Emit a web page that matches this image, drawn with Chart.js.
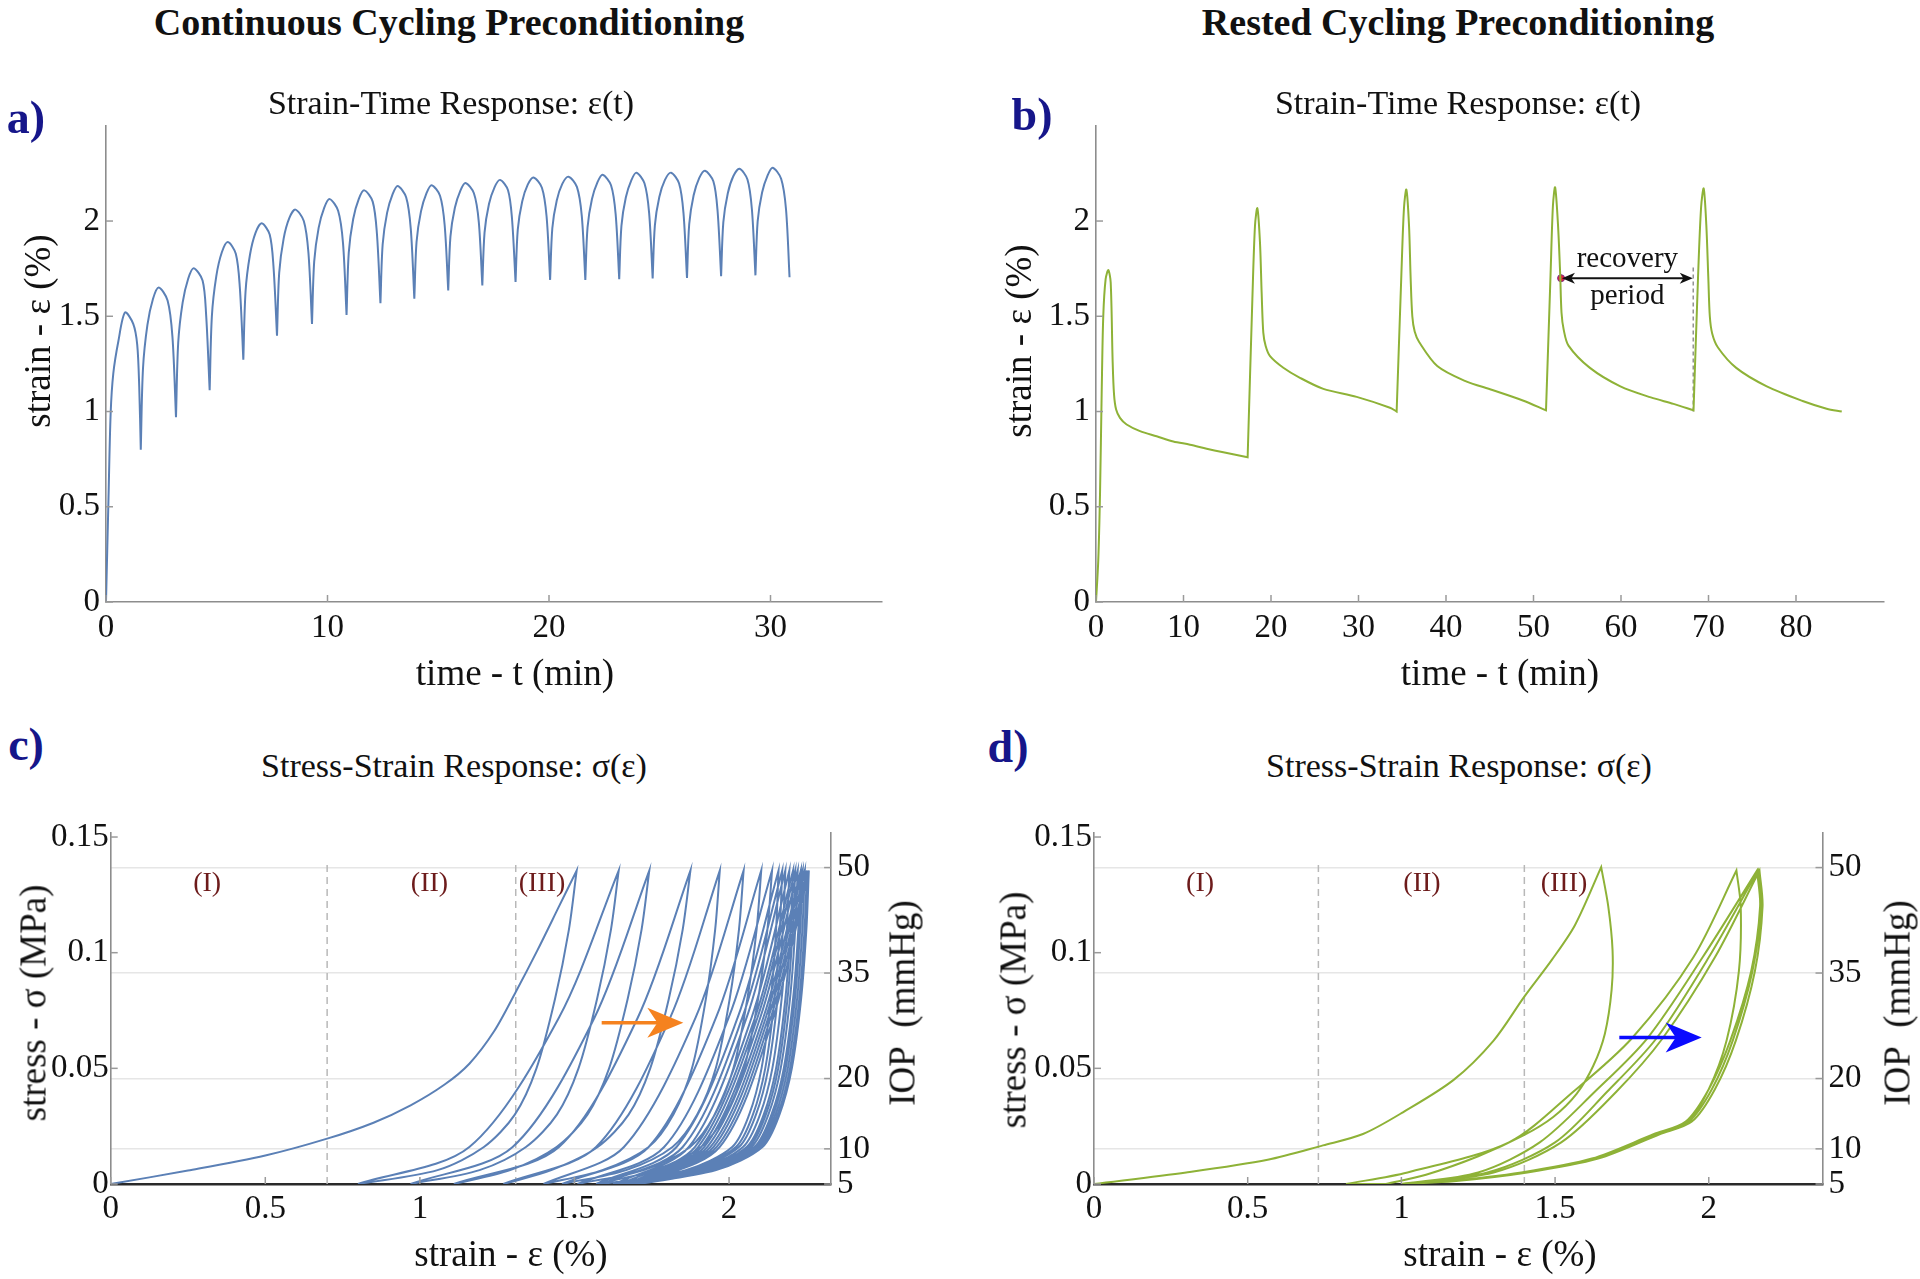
<!DOCTYPE html>
<html>
<head>
<meta charset="utf-8">
<script src="https://cdn.jsdelivr.net/npm/chart.js@4.4.1/dist/chart.umd.min.js"></script>
<style>
  body { margin: 0; background: #fff; }
  #page { position: relative; width: 1920px; height: 1279px; overflow: hidden;
          font-family: 'Liberation Serif', 'Times New Roman', serif; color: #111; }
  canvas { position: absolute; }
  .t { position: absolute; white-space: nowrap; line-height: 1; transform: translate(-50%, -50%); }
  .rot { transform: translate(-50%, -50%) rotate(-90deg); }
  .head { font-weight: bold; font-size: 38px; }
  .ptitle { font-size: 34px; }
  .axt { font-size: 37px; }
  .lab { font-weight: bold; font-size: 46px; color: #16168a; }
</style>
</head>
<body>
<div id="page">
  <canvas id="ca" width="910" height="600" style="left:0px;top:100px"></canvas>
  <canvas id="cb" width="960" height="600" style="left:960px;top:100px"></canvas>
  <canvas id="cc" width="960" height="479" style="left:0px;top:800px"></canvas>
  <canvas id="cd" width="960" height="479" style="left:960px;top:800px"></canvas>

  <div class="t head" style="left:449px;top:22px">Continuous Cycling Preconditioning</div>
  <div class="t head" style="left:1458px;top:22px">Rested Cycling Preconditioning</div>

  <div class="t lab" style="left:26px;top:118px">a)</div>
  <div class="t lab" style="left:1032px;top:115px">b)</div>
  <div class="t lab" style="left:26px;top:745px">c)</div>
  <div class="t lab" style="left:1008px;top:747px">d)</div>

  <div class="t ptitle" style="left:451px;top:103px">Strain-Time Response: ε(t)</div>
  <div class="t ptitle" style="left:1458px;top:103px">Strain-Time Response: ε(t)</div>
  <div class="t ptitle" style="left:454px;top:766px">Stress-Strain Response: σ(ε)</div>
  <div class="t ptitle" style="left:1459px;top:766px">Stress-Strain Response: σ(ε)</div>

  <div class="t axt" style="left:515px;top:672px">time - t (min)</div>
  <div class="t axt" style="left:1500px;top:672px">time - t (min)</div>
  <div class="t axt rot" style="left:37px;top:331px">strain - ε (%)</div>
  <div class="t axt rot" style="left:1018px;top:341px">strain - ε (%)</div>

  <div class="t axt" style="left:511px;top:1253px">strain - ε (%)</div>
  <div class="t axt" style="left:1500px;top:1253px">strain - ε (%)</div>
  <div class="t axt rot" style="left:33px;top:1003px">stress - σ (MPa)</div>
  <div class="t axt rot" style="left:1013px;top:1010px">stress - σ (MPa)</div>
  <div class="t axt rot" style="left:902px;top:1003px">IOP&nbsp; (mmHg)</div>
  <div class="t axt rot" style="left:1897px;top:1003px">IOP&nbsp; (mmHg)</div>
</div>

<script>
// ---------- data ----------

// a) continuous cycling, [time (min), strain (%)]
const contStrainTime = [
  [0, 0], [0.11, 0.53], [0.21, 0.99], [0.33, 1.2], [0.56, 1.37], [0.86, 1.52], [1.23, 1.46], [1.41, 1.35], [1.5, 1.13], [1.57, 0.8],
  [1.67, 1.226], [1.87, 1.455], [2.12, 1.591], [2.38, 1.651], [2.78, 1.583], [3.0, 1.392], [3.16, 0.97],
  [3.26, 1.361], [3.46, 1.572], [3.71, 1.697], [3.96, 1.752], [4.36, 1.688], [4.52, 1.509], [4.68, 1.112],
  [4.78, 1.501], [4.98, 1.711], [5.23, 1.836], [5.5, 1.89], [5.86, 1.828], [6.04, 1.655], [6.2, 1.272],
  [6.3, 1.63], [6.5, 1.823], [6.75, 1.938], [7.03, 1.988], [7.39, 1.929], [7.56, 1.764], [7.72, 1.398],
  [7.82, 1.729], [8.02, 1.908], [8.27, 2.014], [8.55, 2.06], [8.93, 2.0], [9.14, 1.832], [9.3, 1.46],
  [9.4, 1.788], [9.6, 1.964], [9.85, 2.069], [10.1, 2.115], [10.48, 2.054], [10.7, 1.884], [10.86, 1.507],
  [10.96, 1.834], [11.16, 2.011], [11.41, 2.115], [11.66, 2.161], [12.04, 2.102], [12.23, 1.936], [12.39, 1.569],
  [12.49, 1.877], [12.69, 2.043], [12.94, 2.141], [13.17, 2.184], [13.55, 2.125], [13.76, 1.959], [13.92, 1.592],
  [14.02, 1.89], [14.22, 2.051], [14.47, 2.146], [14.7, 2.188], [15.08, 2.133], [15.29, 1.978], [15.45, 1.635],
  [15.55, 1.918], [15.75, 2.07], [16.0, 2.16], [16.23, 2.2], [16.61, 2.146], [16.83, 1.996], [16.99, 1.662],
  [17.09, 1.939], [17.29, 2.089], [17.54, 2.177], [17.79, 2.216], [18.15, 2.162], [18.33, 2.012], [18.49, 1.68],
  [18.59, 1.955], [18.79, 2.103], [19.04, 2.191], [19.3, 2.229], [19.68, 2.175], [19.89, 2.025], [20.05, 1.691],
  [20.15, 1.962], [20.35, 2.108], [20.6, 2.195], [20.88, 2.233], [21.26, 2.179], [21.48, 2.027], [21.64, 1.691],
  [21.74, 1.967], [21.94, 2.116], [22.19, 2.204], [22.42, 2.243], [22.8, 2.188], [23.01, 2.035], [23.17, 1.695],
  [23.27, 1.975], [23.47, 2.125], [23.72, 2.215], [23.95, 2.254], [24.31, 2.198], [24.52, 2.043], [24.68, 1.699],
  [24.78, 1.977], [24.98, 2.126], [25.23, 2.215], [25.51, 2.254], [25.87, 2.198], [26.07, 2.044], [26.23, 1.701],
  [26.33, 1.983], [26.53, 2.135], [26.78, 2.225], [27.04, 2.264], [27.42, 2.209], [27.61, 2.054], [27.77, 1.711],
  [27.87, 1.993], [28.07, 2.145], [28.32, 2.235], [28.6, 2.274], [28.96, 2.218], [29.16, 2.062], [29.32, 1.715],
  [29.42, 1.998], [29.62, 2.15], [29.87, 2.24], [30.1, 2.28], [30.48, 2.222], [30.7, 2.062], [30.86, 1.705]
];

// b) rested cycling, [time (min), strain (%)]
const restStrainTime = [
  [0, 0], [0.26, 0.22], [0.46, 0.57], [0.65, 1.1], [0.83, 1.5], [1.1, 1.695], [1.41, 1.742], [1.68, 1.677],
  [1.9, 1.267], [2.06, 1.09], [2.3, 1.01], [2.74, 0.967], [3.5, 0.932], [5.03, 0.897], [6.93, 0.87],
  [8.83, 0.843], [10.74, 0.826], [12.65, 0.805], [14.55, 0.786], [17.33, 0.76],
  [17.87, 1.589], [18.17, 1.975], [18.44, 2.067], [18.74, 1.888], [18.93, 1.625], [19.12, 1.414], [19.39, 1.344],
  [19.89, 1.291], [21.41, 1.23], [23.31, 1.177], [25.98, 1.119], [29.79, 1.077], [33.6, 1.02], [34.36, 1.0],
  [34.9, 1.72], [35.2, 2.07], [35.47, 2.165], [35.77, 1.98], [35.96, 1.7], [36.15, 1.5], [36.42, 1.42],
  [36.93, 1.365], [39.0, 1.239], [42.16, 1.161], [45.3, 1.113], [48.78, 1.058], [51.43, 1.006],
  [51.95, 1.72], [52.22, 2.08], [52.47, 2.177], [52.8, 1.98], [53.05, 1.72], [53.2, 1.52], [53.45, 1.43],
  [54.0, 1.346], [56.45, 1.229], [59.93, 1.132], [63.41, 1.074], [66.0, 1.04], [68.29, 1.006],
  [68.8, 1.7], [69.15, 2.07], [69.45, 2.171], [69.75, 1.98], [69.98, 1.7], [70.15, 1.5], [70.42, 1.41],
  [71.08, 1.336], [73.17, 1.229], [76.66, 1.132], [80.84, 1.054], [83.5, 1.015], [85.23, 1.0]
];
const recoveryFrom = 53.25, recoveryTo = 68.2, recoveryStrain = 1.7;

// c) continuous cycling stress-strain loops
const contFirstLoadStrain = [0, 0.25, 0.5, 0.7, 0.85, 0.97, 1.08, 1.16, 1.24, 1.31, 1.38, 1.45, 1.507];
const contFirstLoadStress = [0, 0.0058, 0.0123, 0.0196, 0.0265, 0.034, 0.043, 0.052, 0.066, 0.083, 0.101, 0.12, 0.1355];
// unloading branches, strain read at these stress levels (MPa)
const contUnloadStress = [0.11, 0.08, 0.05, 0.03, 0.016, 0.006, 0];
const contUnloadStrain = [
  [1.482, 1.437, 1.377, 1.307, 1.207, 1.057, 0.80],
  [1.618, 1.573, 1.513, 1.443, 1.343, 1.193, 0.97],
  [1.717, 1.672, 1.612, 1.542, 1.442, 1.292, 1.11],
  [1.850, 1.805, 1.745, 1.675, 1.575, 1.425, 1.27],
  [1.955, 1.925, 1.880, 1.820, 1.740, 1.590, 1.40],
  [2.032, 2.002, 1.957, 1.897, 1.817, 1.667, 1.46],
  [2.089, 2.059, 2.014, 1.954, 1.874, 1.724, 1.51],
  [2.124, 2.094, 2.049, 1.989, 1.909, 1.759, 1.57],
  [2.152, 2.135, 2.105, 2.065, 2.010, 1.860, 1.59],
  [2.164, 2.147, 2.117, 2.077, 2.022, 1.872, 1.63],
  [2.174, 2.157, 2.127, 2.087, 2.032, 1.882, 1.65],
  [2.187, 2.170, 2.140, 2.100, 2.045, 1.895, 1.67],
  [2.199, 2.182, 2.152, 2.112, 2.057, 1.907, 1.68],
  [2.206, 2.189, 2.159, 2.119, 2.064, 1.914, 1.68],
  [2.214, 2.197, 2.167, 2.127, 2.072, 1.922, 1.69],
  [2.224, 2.207, 2.177, 2.137, 2.082, 1.932, 1.69],
  [2.230, 2.213, 2.183, 2.143, 2.088, 1.938, 1.70],
  [2.237, 2.220, 2.190, 2.150, 2.095, 1.945, 1.70],
  [2.244, 2.227, 2.197, 2.157, 2.102, 1.952, 1.71],
  [2.250, 2.233, 2.203, 2.163, 2.108, 1.958, 1.70]
];
// loading branches of loops 2..20
const contLoadStress = [0, 0.016, 0.072, 0.1355];
const contLoadStrain = [
  [0.80, 1.16, 1.450, 1.643], [0.97, 1.30, 1.565, 1.742], [1.11, 1.45, 1.705, 1.875],
  [1.27, 1.57, 1.810, 1.970], [1.40, 1.66, 1.892, 2.047], [1.46, 1.74, 1.958, 2.104],
  [1.51, 1.79, 1.999, 2.139], [1.57, 1.83, 2.028, 2.160], [1.59, 1.85, 2.043, 2.172],
  [1.63, 1.87, 2.057, 2.182], [1.65, 1.89, 2.073, 2.195], [1.67, 1.90, 2.084, 2.207],
  [1.68, 1.91, 2.092, 2.214], [1.68, 1.92, 2.101, 2.222], [1.69, 1.93, 2.111, 2.232],
  [1.69, 1.94, 2.119, 2.238], [1.70, 1.95, 2.127, 2.245], [1.70, 1.96, 2.135, 2.252],
  [1.71, 1.97, 2.143, 2.258]
];

// d) rested cycling stress-strain loops
const restFirstLoadStrain = [0, 0.3, 0.565, 0.745, 0.875, 1.005, 1.17, 1.3, 1.4, 1.49, 1.565, 1.65];
const restFirstLoadStress = [0, 0.005, 0.0105, 0.0167, 0.0216, 0.031, 0.045, 0.062, 0.081, 0.097, 0.112, 0.137];
const restFirstUnloadStrain = [1.673, 1.687, 1.684, 1.662, 1.624, 1.57, 1.494, 1.397, 1.25, 1.08, 0.95];
const restFirstUnloadStress = [0.12, 0.101, 0.084, 0.065, 0.051, 0.039, 0.029, 0.021, 0.012, 0.004, 0];
const restLoadStress = [0, 0.005, 0.018, 0.04, 0.063, 0.098, 0.1355];
const restLoadStrain = [
  [0.82, 1.02, 1.35, 1.56, 1.75, 1.95, 2.09],
  [1.0, 1.25, 1.45, 1.63, 1.80, 1.98, 2.157],
  [1.0, 1.28, 1.50, 1.67, 1.83, 2.0, 2.16],
  [1.0, 1.30, 1.52, 1.70, 1.85, 2.02, 2.165]
];
const restUnloadStress = [0.12, 0.092, 0.062, 0.041, 0.027, 0.0215, 0.011, 0.005, 0.0012, 0];
const restUnloadStrain = [
  [2.104, 2.098, 2.058, 2.0, 1.93, 1.83, 1.63, 1.40, 1.15, 1.0],
  [2.167, 2.138, 2.07, 2.0, 1.925, 1.82, 1.62, 1.39, 1.15, 1.0],
  [2.17, 2.142, 2.078, 2.01, 1.935, 1.83, 1.63, 1.40, 1.16, 1.0],
  [2.175, 2.15, 2.088, 2.02, 1.945, 1.84, 1.64, 1.41, 1.17, 1.0]
];

// region markers and arrows for c) and d)
const regionLabels = ['(I)', '(II)', '(III)'];
const contRegionStrain = [0.312, 1.031, 1.395];
const restRegionStrain = [0.345, 1.067, 1.529];
const regionLabelStress = 0.13;
const contBounds = [0.70, 1.31];
const restBounds = [0.73, 1.40];
const boundTopStress = 0.14;
const contArrow = { from: 1.588, to: 1.852, stress: 0.0697 };
const restArrow = { from: 1.709, to: 1.977, stress: 0.0633 };

// tick values
const timeTicksA = [0, 10, 20, 30];
const timeTicksB = [0, 10, 20, 30, 40, 50, 60, 70, 80];
const strainTicks = [0, 0.5, 1, 1.5, 2];
const stressTicks = [0, 0.05, 0.1, 0.15];
const iopTicks = [5, 10, 20, 35, 50];

// ---------- drawing ----------
const SERIF = "'Liberation Serif', 'Times New Roman', serif";
const BLUE = '#5b80b6';
const GREEN = '#8eb237';
Chart.defaults.font.family = SERIF;
Chart.defaults.color = '#111';

// repeat a point where the curve turns sharply so the spline keeps the corner
function toPoints(pairs, corner) {
  const out = [];
  pairs.forEach((p, i) => {
    out.push({ x: p[0], y: p[1] });
    const prev = pairs[i - 1], next = pairs[i + 1];
    if (prev && next && corner(prev[1], p[1], next[1])) out.push({ x: p[0], y: p[1] });
  });
  return out;
}
const atMin = (a, b, c) => b <= a && b <= c;
const atExtreme = (a, b, c) => (b <= a && b <= c) || (b >= a && b >= c);

function zip(xs, ys) { return xs.map((x, i) => [x, ys[i]]); }

function contLoopPath() {
  const pts = zip(contFirstLoadStrain, contFirstLoadStress);
  contUnloadStrain.forEach((row, k) => {
    pts.push(...zip(row, contUnloadStress));
    if (contLoadStrain[k]) pts.push(...zip(contLoadStrain[k], contLoadStress));
  });
  return pts;
}
function restLoopPath() {
  const pts = zip(restFirstLoadStrain, restFirstLoadStress);
  pts.push(...zip(restFirstUnloadStrain, restFirstUnloadStress));
  restLoadStrain.forEach((row, k) => {
    pts.push(...zip(row, restLoadStress));
    pts.push(...zip(restUnloadStrain[k], restUnloadStress));
  });
  return pts;
}

function curve(points, color) {
  return { data: points, showLine: true, borderColor: color, borderWidth: 2,
           pointRadius: 0, tension: 0.3, fill: false };
}
function dashed(x, y0, y1, color, dash, width) {
  return { data: [{ x, y: y0 }, { x, y: y1 }], showLine: true, borderColor: color,
           borderDash: dash, borderWidth: width, pointRadius: 0, tension: 0 };
}

function axis(o) {
  return {
    type: 'linear', position: o.position, min: o.min, max: o.max,
    afterBuildTicks: s => { s.ticks = o.ticks.map(v => ({ value: v })); },
    afterFit: s => { if (s.isHorizontal()) s.height = o.size; else s.width = o.size; },
    grid: { display: !!o.grid, drawOnChartArea: !!o.grid, drawTicks: false, color: '#e6e6e6', lineWidth: 1.5 },
    border: { display: true, color: o.borderColor || '#8d8d8d', width: o.borderWidth || 1.6 },
    ticks: { padding: o.pad, autoSkip: false, maxRotation: 0, color: '#111',
             font: { size: 33, family: SERIF }, callback: v => String(v) }
  };
}

// Mathematica-style tick marks pointing into the plot
const innerTicks = {
  id: 'innerTicks',
  afterDatasetsDraw(chart) {
    const ctx = chart.ctx;
    ctx.save();
    ctx.strokeStyle = '#9a9a9a';
    ctx.lineWidth = 1.5;
    Object.values(chart.scales).forEach(s => {
      s.ticks.forEach(t => {
        const p = s.getPixelForValue(t.value);
        ctx.beginPath();
        if (s.isHorizontal()) { ctx.moveTo(p, s.top); ctx.lineTo(p, s.top - 7); }
        else if (s.position === 'left') { ctx.moveTo(s.right, p); ctx.lineTo(s.right + 7, p); }
        else { ctx.moveTo(s.left, p); ctx.lineTo(s.left - 7, p); }
        ctx.stroke();
      });
    });
    ctx.restore();
  }
};

function head(ctx, tipX, y, dir, len, halfW) {
  ctx.beginPath();
  ctx.moveTo(tipX, y);
  ctx.lineTo(tipX - dir * len, y - halfW);
  ctx.lineTo(tipX - dir * len * 0.72, y);
  ctx.lineTo(tipX - dir * len, y + halfW);
  ctx.closePath();
  ctx.fill();
}

function notes(draw) {
  return { id: 'notes', afterDatasetsDraw(chart) {
    const ctx = chart.ctx; ctx.save(); draw(ctx, chart.scales.x, chart.scales.y); ctx.restore();
  } };
}

function loopNotes(regionStrain, arrow, color) {
  return notes((ctx, x, y) => {
    ctx.font = '28px ' + SERIF;
    ctx.fillStyle = '#6d1b1b';
    ctx.textAlign = 'center';
    ctx.textBaseline = 'middle';
    regionLabels.forEach((l, i) => ctx.fillText(l, x.getPixelForValue(regionStrain[i]), y.getPixelForValue(regionLabelStress)));
    const x1 = x.getPixelForValue(arrow.from), x2 = x.getPixelForValue(arrow.to), py = y.getPixelForValue(arrow.stress);
    ctx.strokeStyle = color; ctx.fillStyle = color; ctx.lineWidth = 3.5;
    ctx.beginPath(); ctx.moveTo(x1, py); ctx.lineTo(x2 - 20, py); ctx.stroke();
    head(ctx, x2, py, 1, 36, 15);
  });
}

function base(padding, scales, extra) {
  return Object.assign({
    responsive: false, animation: false, devicePixelRatio: 1, events: [],
    layout: { padding },
    plugins: { legend: { display: false }, tooltip: { enabled: false } },
    scales
  }, extra || {});
}

// a)
new Chart(document.getElementById('ca'), {
  type: 'scatter',
  data: { datasets: [curve(toPoints(contStrainTime, atMin), BLUE)] },
  options: base({ top: 24.5, right: 28.75, bottom: 0, left: 0 }, {
    x: axis({ position: 'bottom', min: 0, max: 35, ticks: timeTicksA, size: 98, pad: 7 }),
    y: axis({ position: 'left', min: 0, max: 2.5, ticks: strainTicks, size: 106, pad: 6 })
  }),
  plugins: [innerTicks]
});

// b)
new Chart(document.getElementById('cb'), {
  type: 'scatter',
  data: { datasets: [
    curve(toPoints(restStrainTime, atMin), GREEN),
    dashed(recoveryTo + 0.05, 1.0, 1.77, '#777', [4, 3], 1.2),
    { data: [{ x: recoveryFrom - 0.1, y: recoveryStrain }], pointRadius: 3.5, pointBackgroundColor: '#e3203c',
      pointBorderColor: '#7a2c8c', pointBorderWidth: 1 }
  ] },
  options: base({ top: 24.5, right: 36.5, bottom: 0, left: 0 }, {
    x: axis({ position: 'bottom', min: 0, max: 90, ticks: timeTicksB, size: 98, pad: 7 }),
    y: axis({ position: 'left', min: 0, max: 2.5, ticks: strainTicks, size: 136, pad: 6 })
  }),
  plugins: [innerTicks, notes((ctx, x, y) => {
    const x1 = x.getPixelForValue(recoveryFrom), x2 = x.getPixelForValue(recoveryTo), py = y.getPixelForValue(recoveryStrain);
    ctx.strokeStyle = '#111'; ctx.fillStyle = '#111'; ctx.lineWidth = 2;
    ctx.beginPath(); ctx.moveTo(x1 + 8, py); ctx.lineTo(x2 - 8, py); ctx.stroke();
    head(ctx, x2, py, 1, 13, 5.5);
    head(ctx, x1, py, -1, 13, 5.5);
    ctx.font = '29px ' + SERIF;
    ctx.textAlign = 'center'; ctx.textBaseline = 'middle';
    const cx = x.getPixelForValue((recoveryFrom + recoveryTo) / 2);
    ctx.fillText('recovery', cx, y.getPixelForValue(1.8));
    ctx.fillText('period', cx, y.getPixelForValue(1.605));
  })]
});

// c)
new Chart(document.getElementById('cc'), {
  type: 'scatter',
  data: { datasets: [
    curve(toPoints(contLoopPath(), atExtreme), BLUE),
    ...contBounds.map(b => dashed(b, 0, boundTopStress, '#b8b8b8', [7, 5], 1.5))
  ] },
  options: base({ top: 32.4, right: 0, bottom: 0, left: 0 }, {
    x: axis({ position: 'bottom', min: 0, max: 2.33, ticks: strainTicks, size: 95, pad: 6, borderColor: '#2a2a2a', borderWidth: 2.4 }),
    y: axis({ position: 'left', min: 0, max: 0.152, ticks: stressTicks, size: 110.7, pad: 2 }),
    y2: axis({ position: 'right', min: 5, max: 55, ticks: iopTicks, size: 128.9, pad: 6, grid: true })
  }),
  plugins: [innerTicks, loopNotes(contRegionStrain, contArrow, '#f5821f')]
});

// d)
new Chart(document.getElementById('cd'), {
  type: 'scatter',
  data: { datasets: [
    curve(toPoints(restLoopPath(), atExtreme), GREEN),
    ...restBounds.map(b => dashed(b, 0, boundTopStress, '#b8b8b8', [7, 5], 1.5))
  ] },
  options: base({ top: 32.4, right: 0, bottom: 0, left: 0 }, {
    x: axis({ position: 'bottom', min: 0, max: 2.37, ticks: strainTicks, size: 95, pad: 6, borderColor: '#2a2a2a', borderWidth: 2.4 }),
    y: axis({ position: 'left', min: 0, max: 0.152, ticks: stressTicks, size: 134, pad: 2 }),
    y2: axis({ position: 'right', min: 5, max: 55, ticks: iopTicks, size: 97.5, pad: 6, grid: true })
  }),
  plugins: [innerTicks, loopNotes(restRegionStrain, restArrow, '#0a0aff')]
});
</script>
</body>
</html>
